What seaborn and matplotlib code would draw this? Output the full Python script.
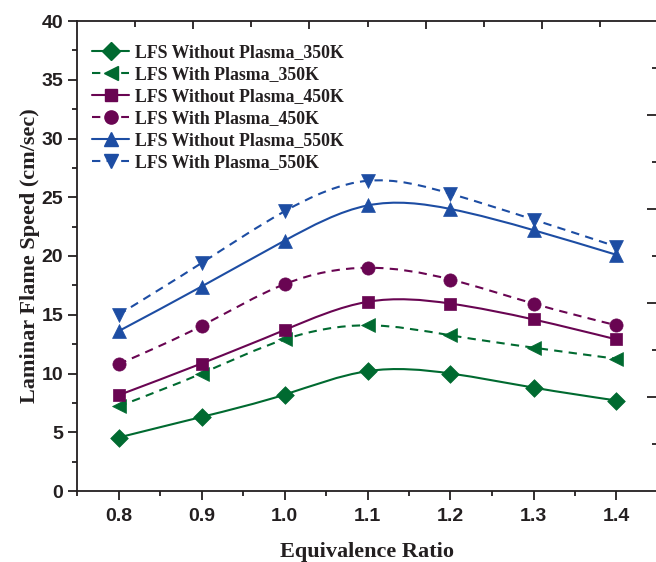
import numpy as np
import pandas as pd
import matplotlib
matplotlib.use("Agg")
import matplotlib.pyplot as plt
from matplotlib.path import Path
from matplotlib.patches import PathPatch
from matplotlib.lines import Line2D
from matplotlib.ticker import MultipleLocator, FixedLocator
import seaborn as sns

# ---- data ----
phi = [0.8, 0.9, 1.0, 1.1, 1.2, 1.3, 1.4]
wo_350 = [4.55, 6.3, 8.2, 10.2, 10.0, 8.8, 7.7]
w_350 = [7.2, 10.0, 12.9, 14.1, 13.25, 12.2, 11.25]
wo_450 = [8.15, 10.85, 13.7, 16.1, 15.95, 14.6, 12.9]
w_450 = [10.8, 14.05, 17.6, 19.0, 18.0, 15.95, 14.1]
wo_550 = [13.6, 17.4, 21.3, 24.3, 24.0, 22.2, 20.1]
w_550 = [15.0, 19.4, 23.8, 26.4, 25.3, 23.1, 20.8]
labels = ["LFS Without Plasma_350K", "LFS With Plasma_350K",
          "LFS Without Plasma_450K", "LFS With Plasma_450K",
          "LFS Without Plasma_550K", "LFS With Plasma_550K"]
series = [wo_350, w_350, wo_450, w_450, wo_550, w_550]

green, purple, blue = "#006A30", "#690552", "#1D4DA3"
colors = [green, green, purple, purple, blue, blue]
markers = ["D", "<", "s", "o", "^", "v"]
msizes = [9, 10, 8.5, 9.5, 10, 10]
dashed = (0, (4, 3))
styles = ["-", dashed, "-", dashed, "-", dashed]

sns.set_style("ticks")
plt.rcParams["font.family"] = ["Liberation Sans", "DejaVu Sans"]
textc = "#231F20"

fig = plt.figure(figsize=(6.56, 5.62), dpi=100)
ax = fig.add_axes([77 / 656, 1 - 491 / 562, 581 / 656, 470 / 562])


def spline_path(x, y):
    x = np.asarray(x, float)
    y = np.asarray(y, float)
    n = len(x) - 1
    h = x[1] - x[0]
    A = np.zeros((n + 1, n + 1))
    b = np.zeros(n + 1)
    A[0, 0] = 1
    A[n, n] = 1
    for i in range(1, n):
        A[i, i - 1] = 1
        A[i, i] = 4
        A[i, i + 1] = 1
        b[i] = 6 / h ** 2 * (y[i + 1] - 2 * y[i] + y[i - 1])
    M = np.linalg.solve(A, b)
    m = np.zeros(n + 1)
    for i in range(n):
        m[i] = (y[i + 1] - y[i]) / h - h * (2 * M[i] + M[i + 1]) / 6
    m[n] = (y[n] - y[n - 1]) / h + h * (M[n - 1] + 2 * M[n]) / 6
    verts = [(x[0], y[0])]
    codes = [Path.MOVETO]
    for i in range(n):
        verts += [(x[i] + h / 3, y[i] + h / 3 * m[i]),
                  (x[i + 1] - h / 3, y[i + 1] - h / 3 * m[i + 1]),
                  (x[i + 1], y[i + 1])]
        codes += [Path.CURVE4] * 3
    return Path(verts, codes)


handles = []
for ys, lab, c, mk, ms, ls in zip(series, labels, colors, markers, msizes, styles):
    patch = PathPatch(spline_path(phi, ys), facecolor="none", edgecolor=c,
                      lw=1.5, linestyle=ls, zorder=2)
    ax.add_patch(patch)
    df = pd.DataFrame({"phi": phi, "v": ys})
    sns.scatterplot(data=df, x="phi", y="v", marker=mk, s=ms ** 2, color=c,
                    edgecolor=c, linewidth=0.5, ax=ax, zorder=3, legend=False)
    handles.append(Line2D([], [], color=c, lw=1.5, linestyle=ls, marker=mk,
                          markersize=ms, markeredgecolor=c))

ax.set_xlim(0.75, 1.45)
ax.set_ylim(0, 40)
ax.xaxis.set_major_locator(FixedLocator(phi))
ax.xaxis.set_minor_locator(MultipleLocator(0.05))
ax.yaxis.set_major_locator(MultipleLocator(5))
ax.yaxis.set_minor_locator(MultipleLocator(2.5))
ax.set_xticklabels([f"{v:.1f}" for v in phi])
ax.tick_params(axis="both", which="major", direction="out", length=6.5, width=1.3,
               labelsize=14, colors=textc, pad=3.5)
ax.tick_params(axis="both", which="minor", direction="out", length=3.5, width=1.3,
               colors=textc)
ax.tick_params(axis="x", which="major", pad=6)
for t in ax.get_xticklabels() + ax.get_yticklabels():
    t.set_fontweight("bold")
for sp in ["left", "bottom", "top", "right"]:
    ax.spines[sp].set_linewidth(1.3)
    ax.spines[sp].set_color(textc)
ax.spines["right"].set_visible(False)

ax.set_xlabel("Equivalence Ratio", family=["Liberation Serif"], fontweight="bold",
              fontsize=16, color=textc, labelpad=12)
ax.set_ylabel("Laminar Flame Speed (cm/sec)", family=["Liberation Serif"],
              fontweight="bold", fontsize=16, color=textc, labelpad=1)

# mirrored tick axes (right and top) without labels
axr = ax.twinx()
axr.set_ylim(0, 10)
axr.yaxis.set_major_locator(FixedLocator([2, 4, 6, 8]))
axr.yaxis.set_minor_locator(FixedLocator([1, 3, 5, 7, 9]))
axr.tick_params(axis="y", which="major", direction="in", length=8, width=1.3,
                labelright=False, colors=textc)
axr.tick_params(axis="y", which="minor", direction="in", length=4, width=1.3,
                colors=textc)
axt = ax.twiny()
axt.set_xlim(0, 10)
axt.xaxis.set_major_locator(FixedLocator([2, 4, 6, 8]))
axt.xaxis.set_minor_locator(FixedLocator([1, 3, 5, 7, 9]))
axt.tick_params(axis="x", which="major", direction="in", length=6, width=1.3,
                labeltop=False, colors=textc)
axt.tick_params(axis="x", which="minor", direction="in", length=4, width=1.3,
                colors=textc)
for a in (axr, axt):
    for sp in a.spines.values():
        sp.set_visible(False)
axr.grid(False)
axt.grid(False)

leg = ax.legend(handles, labels, loc="upper left", bbox_to_anchor=(0.026, 0.951),
                frameon=False, handlelength=2.1, handletextpad=0.3,
                labelspacing=0.28, borderpad=0, borderaxespad=0,
                prop={"family": "Liberation Serif", "weight": "bold", "size": 12.8})
for t in leg.get_texts():
    t.set_color(textc)

fig.savefig("out.png", dpi=100)
